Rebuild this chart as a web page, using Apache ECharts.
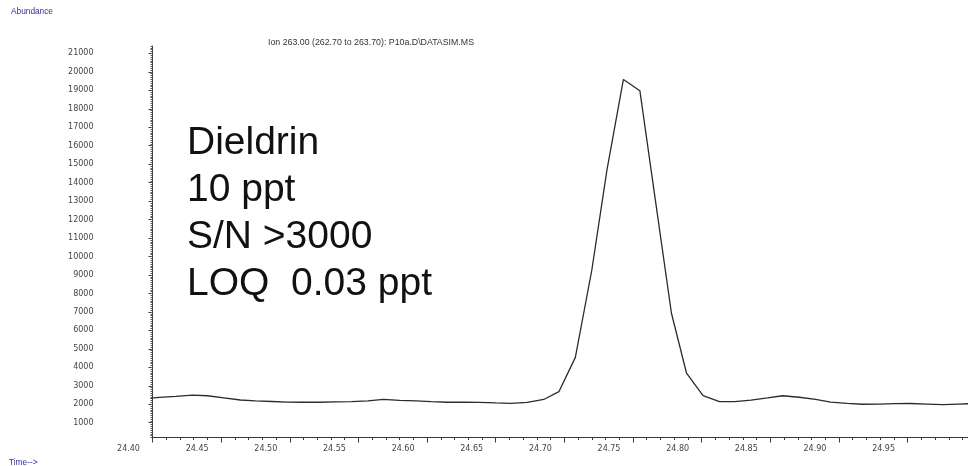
<!DOCTYPE html>
<html>
<head>
<meta charset="utf-8">
<script src="https://cdn.jsdelivr.net/npm/echarts@6/dist/echarts.min.js"></script>
<style>
  html, body { margin: 0; padding: 0; background: #fff; }
  #chart { width: 968px; height: 466px; }
</style>
</head>
<body>
<div id="chart"></div>
<script>
// Extracted ion chromatogram, m/z 263 window (retention time in minutes vs abundance)
const retentionTimes = [
  24.394, 24.405, 24.417, 24.429, 24.440, 24.452, 24.464, 24.475, 24.487, 24.498,
  24.510, 24.522, 24.533, 24.545, 24.557, 24.568, 24.580, 24.592, 24.603, 24.615,
  24.627, 24.638, 24.650, 24.661, 24.673, 24.685, 24.696, 24.708, 24.720, 24.731,
  24.743, 24.755, 24.766, 24.778, 24.789, 24.801, 24.813, 24.824, 24.836, 24.848,
  24.859, 24.871, 24.883, 24.894, 24.906, 24.917, 24.929, 24.941, 24.952, 24.964,
  24.976, 24.987, 24.999
];
const abundance = [
  2310, 2370, 2430, 2500, 2460, 2350, 2230, 2180, 2150, 2120,
  2110, 2110, 2130, 2140, 2180, 2260, 2210, 2180, 2140, 2110,
  2110, 2100, 2070, 2050, 2100, 2260, 2680, 4540, 9270, 14680,
  19590, 18980, 13200, 6930, 3680, 2470, 2140, 2140, 2220, 2340,
  2460, 2380, 2260, 2120, 2050, 2000, 2010, 2030, 2040, 2010,
  1980, 2010, 2040
];

// Axis tick labels
const timeTicks = [24.40, 24.45, 24.50, 24.55, 24.60, 24.65, 24.70, 24.75, 24.80, 24.85, 24.90, 24.95];
const abundanceTicks = [1000, 2000, 3000, 4000, 5000, 6000, 7000, 8000, 9000, 10000,
  11000, 12000, 13000, 14000, 15000, 16000, 17000, 18000, 19000, 20000, 21000];

// Header and annotation text
const yAxisTitle = 'Abundance';
const xAxisTitle = 'Time-->';
const traceTitle = 'Ion 263.00 (262.70 to 263.70): P10a.D\\DATASIM.MS';
const noteLines = ['Dieldrin', '10 ppt', 'S/N >3000', 'LOQ  0.03 ppt'];

const axisColor = '#3a3a3a';
const labelFont = 'DejaVu Sans';

const chart = echarts.init(document.getElementById('chart'), null, { renderer: 'canvas' });

chart.setOption({
  animation: false,
  backgroundColor: '#ffffff',
  grid: { left: 152.5, top: 46, right: 0, bottom: 28.5, containLabel: false },
  xAxis: {
    type: 'value',
    min: 24.40,
    max: 24.994,
    interval: 0.05,
    axisLine: { show: true, onZero: false, lineStyle: { color: axisColor, width: 1 } },
    axisTick: { show: true, inside: false, length: 5, lineStyle: { color: axisColor, width: 1 } },
    minorTick: { show: true, splitNumber: 5, length: 2.5, lineStyle: { color: axisColor, width: 1 } },
    splitLine: { show: false },
    axisLabel: {
      customValues: timeTicks,
      formatter: v => v.toFixed(2),
      fontFamily: labelFont,
      fontSize: 8,
      color: '#444',
      margin: 7,
      align: 'center',
      padding: [0, 48, 0, 0]
    }
  },
  yAxis: [
    {
      type: 'value',
      min: 200,
      max: 21400,
      axisLine: { show: true, lineStyle: { color: axisColor, width: 1 } },
      axisTick: { show: true, customValues: abundanceTicks, length: 4, lineStyle: { color: axisColor, width: 1 } },
      splitLine: { show: false },
      axisLabel: {
        customValues: abundanceTicks,
        formatter: v => String(Math.round(v)),
        fontFamily: labelFont,
        fontSize: 8,
        color: '#444',
        margin: 59
      }
    },
    {
      type: 'value',
      min: 200,
      max: 21400,
      interval: 100,
      position: 'left',
      axisLine: { show: false },
      axisTick: { show: true, length: 2, lineStyle: { color: '#555', width: 1 } },
      axisLabel: { show: false },
      splitLine: { show: false }
    }
  ],
  series: [{
    type: 'line',
    yAxisIndex: 0,
    data: retentionTimes.map((t, i) => [t, abundance[i]]),
    showSymbol: false,
    smooth: false,
    clip: true,
    lineStyle: { color: '#2b2b2b', width: 1.3 }
  }],
  graphic: [
    {
      type: 'text', left: 11, top: 8,
      style: { text: yAxisTitle, fontFamily: 'Liberation Sans', fontSize: 8.3, fill: '#2f2f9c' }
    },
    {
      type: 'text', left: 9, top: 459,
      style: { text: xAxisTitle, fontFamily: 'Liberation Sans', fontSize: 8.3, fill: '#2f2f9c' }
    },
    {
      type: 'text', x: 371, y: 43,
      style: { text: traceTitle, fontFamily: 'Liberation Sans', fontSize: 8.8, fill: '#333',
               align: 'center', verticalAlign: 'middle' }
    },
    {
      type: 'text', left: 187, top: 120,
      style: { text: noteLines.join('\n'), fontFamily: 'Liberation Sans', fontSize: 39,
               lineHeight: 47, fill: '#111' }
    }
  ]
});
</script>
</body>
</html>
